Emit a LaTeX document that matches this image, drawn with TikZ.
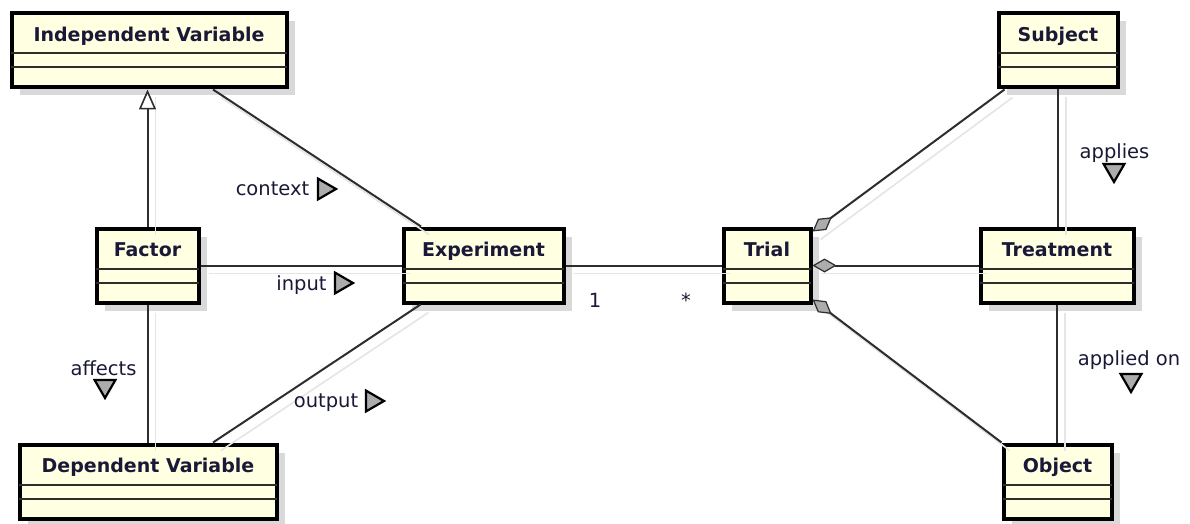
\documentclass[tikz,border=0pt]{standalone}
\usepackage{fontspec}
\setmainfont{DejaVu Sans}
\usetikzlibrary{arrows.meta,shapes.geometric,shadows,fit}
\definecolor{boxfill}{RGB}{255,255,226}
\definecolor{ink}{RGB}{25,25,55}
\definecolor{edge}{RGB}{45,45,45}
\newcommand\umlclass[6]{%
  \node[classbox, fit={(#2,#3)(#4,#5)}] (#1) {};
  \draw[sepline] ([yshift=-42pt,xshift=1.9pt]#1.north west) -- ([yshift=-42pt,xshift=-1.9pt]#1.north east);
  \draw[sepline] ([yshift=-56pt,xshift=1.9pt]#1.north west) -- ([yshift=-56pt,xshift=-1.9pt]#1.north east);
  \node[ctitle] (#1-t) at ([yshift=-30pt]#1.north) {#6};
}
\begin{document}
\begin{tikzpicture}[x=1pt,y=-1pt,
  classbox/.style={draw=black, line width=4pt, fill=boxfill, inner sep=0pt,
    drop shadow={shadow xshift=8pt, shadow yshift=-8pt, fill=black!15, opacity=1}},
  sepline/.style={draw=edge, line width=2pt},
  ctitle/.style={anchor=base, font=\fontsize{19}{22}\selectfont\bfseries, text=ink, inner sep=0pt},
  lbl/.style={anchor=base, font=\fontsize{19.5}{22}\selectfont, text=ink, inner sep=0pt},
  conn/.style={draw=edge, line width=2pt,
    preaction={draw=black!10, line width=1.6pt, arrows=-, transform canvas={shift={(8pt,-8pt)}}}},
  reltri/.style={regular polygon, regular polygon sides=3, minimum size=24pt, inner sep=0pt,
    draw=black, line width=2.2pt, fill=gray!65},
  agg/.style={{Diamond[length=24pt,width=14pt,fill=gray!65,line width=1.2pt]}-},
]
\useasboundingbox (0,0) rectangle (1190,524);

% classes
\umlclass{iv}{11.5}{13.5}{286.5}{87.5}{Independent Variable}
\umlclass{subject}{998.5}{13.5}{1117.5}{87.5}{Subject}
\umlclass{factor}{96.5}{228.5}{198.5}{302.5}{Factor}
\umlclass{exp}{403.5}{228.5}{563.5}{302.5}{Experiment}
\umlclass{trial}{723.5}{228.5}{810.5}{302.5}{Trial}
\umlclass{treat}{980.5}{228.5}{1133.5}{302.5}{Treatment}
\umlclass{dv}{19.5}{444.5}{276.5}{518.5}{Dependent Variable}
\umlclass{object}{1003.5}{444.5}{1111.5}{518.5}{Object}

% connectors
\draw[conn, -{Triangle[open, length=20pt, width=17pt, fill=white, line width=1.6pt]}]
  (factor.north) -- (factor.north |- iv.south);
\draw[conn] ([xshift=64pt]iv.south) -- ([xshift=19.5pt]exp.north west);
\draw[conn] (factor.east) -- (exp.west);
\draw[conn] ([xshift=65pt]dv.north) -- ([xshift=19pt]exp.south west);
\draw[conn] (factor.south) -- (factor.south |- dv.north);
\draw[conn] (exp.east) -- (trial.west);
\draw[conn, agg] ([yshift=-5pt]trial.north east) -- ([xshift=8pt]subject.south west);
\draw[conn, agg] (trial.east) -- (treat.west);
\draw[conn, agg] ([yshift=5pt]trial.south east) -- (object.north west);
\draw[conn] (subject.south) -- (subject.south |- treat.north);
\draw[conn] (treat.south) -- (treat.south |- object.north);

% labels
\node[lbl] (ctx) at (272.5,195) {context};
\node[lbl] (inp) at (301.5,290) {input};
\node[lbl] (outp) at (326,407) {output};
\node[lbl] (aff) at (103.5,375) {affects};
\node[lbl] (app) at (1114.5,158) {applies};
\node[lbl] (appon) at (1129,365) {applied on};
\node[lbl] (m1) at (595,307) {1};
\node[lbl] (m2) at (686,307) {*};

% direction triangles
\node[reltri, shape border rotate=-90] (ctx-tri) at (324,189) {};
\node[reltri, shape border rotate=-90] (inp-tri) at (341,283) {};
\node[reltri, shape border rotate=-90] (outp-tri) at (372,401) {};
\node[reltri, shape border rotate=180] (aff-tri) at (105,386) {};
\node[reltri, shape border rotate=180] (app-tri) at (1114,170) {};
\node[reltri, shape border rotate=180] (appon-tri) at (1131,380) {};
\end{tikzpicture}
\end{document}
